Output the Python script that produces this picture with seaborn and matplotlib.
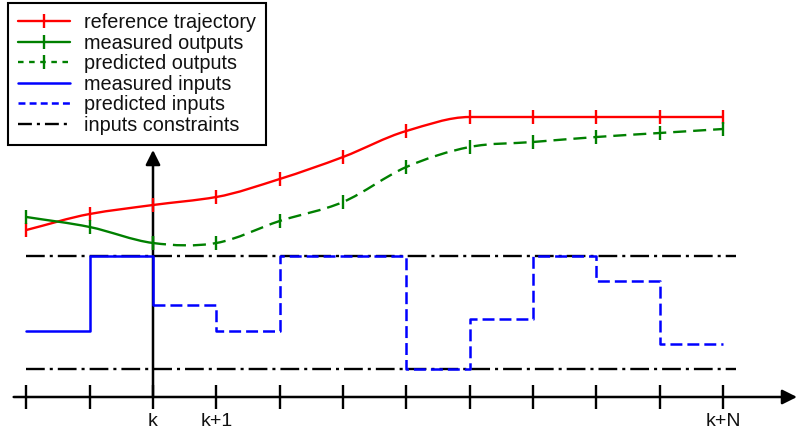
import numpy as np
import pandas as pd
import matplotlib
matplotlib.use("Agg")
import matplotlib.pyplot as plt
import seaborn as sns
from matplotlib.path import Path
from matplotlib.patches import PathPatch
from matplotlib.lines import Line2D

# ---------------- data ----------------
steps = list(range(-2, 10))                      # k-2 ... k+N
tick_labels = ["", "", "k", "k+1", "", "", "", "", "", "", "", "k+N"]
ref_traj = [167, 183, 192, 200, 218, 240, 266, 280, 280, 280, 280, 280]
meas_out_x = [-2, -1, 0]
meas_out = [180, 170, 154]
pred_out_x = list(range(0, 10))
pred_out = [154, 154, 176, 195, 230, 250, 255, 260, 264, 268]
meas_in_x = [-2, -1]
meas_in = [66, 141]
pred_in_x = list(range(0, 9))
pred_in = [92, 66, 141, 141, 28, 78, 141, 116, 53]
u_max = 141
u_min = 28
labels = ["reference trajectory", "measured outputs", "predicted outputs",
          "measured inputs", "predicted inputs", "inputs constraints"]

RED = "#ff0000"
GREEN = "#008000"
BLUE = "#0000ff"

sns.set_style("white")
plt.rcParams["font.family"] = ["Liberation Sans", "DejaVu Sans"]
plt.rcParams["lines.scale_dashes"] = False

fig = plt.figure(figsize=(7.97, 4.32), dpi=100)
ax = fig.add_axes([0, 0, 1, 1])
ax.set_xlim(-153 / 63.33, (797 - 153) / 63.33)
ax.set_ylim(-35, 397)


def tangents(x, y, monotone=False):
    x = np.asarray(x, float); y = np.asarray(y, float)
    d = np.diff(y) / np.diff(x)
    m = np.zeros_like(y)
    m[0] = d[0]; m[-1] = d[-1]
    for i in range(1, len(y) - 1):
        if monotone:
            m[i] = 0.0 if d[i - 1] * d[i] <= 0 else 2 / (1 / d[i - 1] + 1 / d[i])
        else:
            m[i] = (y[i + 1] - y[i - 1]) / (x[i + 1] - x[i - 1])
    return m


def smooth_path(x, y, m, i0=0, i1=None):
    x = np.asarray(x, float); y = np.asarray(y, float)
    if i1 is None:
        i1 = len(x) - 1
    verts = [(x[i0], y[i0])]
    codes = [Path.MOVETO]
    for i in range(i0, i1):
        h = x[i + 1] - x[i]
        verts += [(x[i] + h / 3, y[i] + m[i] * h / 3),
                  (x[i + 1] - h / 3, y[i + 1] - m[i + 1] * h / 3),
                  (x[i + 1], y[i + 1])]
        codes += [Path.CURVE4] * 3
    return Path(verts, codes)


# constraints
for lvl in (u_max, u_min):
    sns.lineplot(x=[steps[0], steps[-1] + 0.2], y=[lvl, lvl], ax=ax, color="black",
                 linewidth=1.7, linestyle=(0, (13.5, 3.6, 2.2, 3.6)),
                 estimator=None, sort=False, legend=False, zorder=2)

# axes arrows
ax.annotate("", xy=(ax.get_xlim()[1], 0), xytext=(-2.2, 0),
            arrowprops=dict(arrowstyle="-|>", color="black", lw=1.8,
                            mutation_scale=22, shrinkA=0, shrinkB=0), zorder=1.5)
ax.annotate("", xy=(0, 397 - 150), xytext=(0, 0),
            arrowprops=dict(arrowstyle="-|>", color="black", lw=1.8,
                            mutation_scale=22, shrinkA=0, shrinkB=0), zorder=1.5)

# inputs
sns.lineplot(x=meas_in_x + [pred_in_x[0]], y=meas_in + [pred_in[0]], ax=ax,
             color=BLUE, linewidth=1.8, drawstyle="steps-post",
             estimator=None, sort=False, legend=False, zorder=3)
sns.lineplot(x=pred_in_x + [pred_in_x[-1] + 1], y=pred_in + [pred_in[-1]], ax=ax,
             color=BLUE, linewidth=1.8, drawstyle="steps-post",
             linestyle=(0, (8.6, 3.6)),
             estimator=None, sort=False, legend=False, zorder=3)

# reference trajectory (smooth)
m_ref = tangents(steps, ref_traj, monotone=True)
ax.add_patch(PathPatch(smooth_path(steps, ref_traj, m_ref), fill=False,
                       edgecolor=RED, linewidth=1.7, zorder=4))

# outputs (smooth, measured solid then predicted dashed)
out_x = meas_out_x + pred_out_x[1:]
out_y = meas_out + pred_out[1:]
m_out = tangents(out_x, out_y)
n_meas = len(meas_out_x)
ax.add_patch(PathPatch(smooth_path(out_x, out_y, m_out, 0, n_meas - 1), fill=False,
                       edgecolor=GREEN, linewidth=1.7, zorder=4))
ax.add_patch(PathPatch(smooth_path(out_x, out_y, m_out, n_meas - 1, None), fill=False,
                       edgecolor=GREEN, linewidth=1.7, linestyle=(0, (9.4, 5)),
                       zorder=4))

# tick markers on curves
sns.scatterplot(x=steps, y=ref_traj, ax=ax, marker="|", s=110, color=RED,
                linewidth=1.7, legend=False, zorder=5)
sns.scatterplot(x=meas_out_x, y=meas_out, ax=ax, marker="|", s=110, color=GREEN,
                linewidth=1.7, legend=False, zorder=5)
sns.scatterplot(x=pred_out_x, y=pred_out, ax=ax, marker="|", s=110, color=GREEN,
                linewidth=1.7, legend=False, zorder=5)

# time axis ticks
for s in ax.spines.values():
    s.set_visible(False)
ax.spines["bottom"].set_position(("data", 0))
ax.set_xticks(steps)
ax.set_xticklabels(tick_labels)
ax.tick_params(axis="x", bottom=True, direction="inout", length=17, width=1.7,
               pad=3, labelsize=14, color="black", labelcolor="#111111")
ax.set_yticks([])
ax.set_xlabel("")
ax.set_ylabel("")

# legend
handles = [
    Line2D([], [], color=RED, lw=1.7, marker="|", markersize=10, markeredgewidth=1.7),
    Line2D([], [], color=GREEN, lw=1.7, marker="|", markersize=10, markeredgewidth=1.7),
    Line2D([], [], color=GREEN, lw=1.7, ls=(0, (4, 4)), marker="|", markersize=10,
           markeredgewidth=1.7),
    Line2D([], [], color=BLUE, lw=1.8),
    Line2D([], [], color=BLUE, lw=1.8, ls=(0, (5, 3))),
    Line2D([], [], color="black", lw=1.7, ls=(0, (10, 3.6, 2.2, 3.6))),
]
leg = ax.legend(handles, labels, loc="upper left", bbox_to_anchor=(8 / 797, 1 - 3 / 432),
                borderaxespad=0, frameon=True, fancybox=False, edgecolor="black",
                framealpha=1, fontsize=14.3, handlelength=2.6, handletextpad=0.75,
                labelspacing=0.08, borderpad=0.5, numpoints=1)
leg.get_frame().set_linewidth(1.5)
leg.set_zorder(10)
for t in leg.get_texts():
    t.set_color("#111111")

fig.savefig("out.png", dpi=100)
